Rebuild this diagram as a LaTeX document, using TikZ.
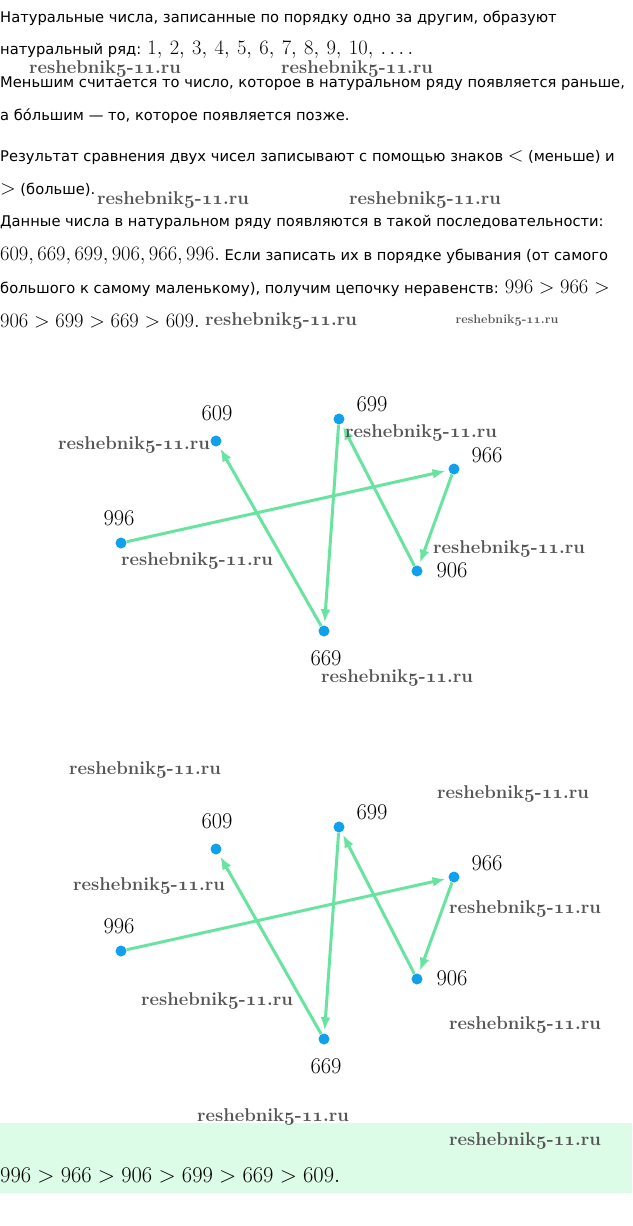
\documentclass[tikz,border=0pt]{standalone}
\usepackage{fix-cm}
\usepackage{fontspec}
\usetikzlibrary{arrows.meta}
\newfontfamily\bodyfont{DejaVu Sans}
\definecolor{linegreen}{RGB}{104,228,160}
\definecolor{dotblue}{RGB}{16,160,236}
\definecolor{boxgreen}{RGB}{220,252,232}
\definecolor{wmgray}{RGB}{85,85,85}
\newcommand\mth[1]{{\fontsize{20.5}{24}\selectfont$#1$}}
\newcommand\osf[1]{{\usefont{OML}{cmm}{b}{it}#1}}
\newcommand\wmtext{reshebnik\osf{5}-\osf{11}.ru}
\newcommand\gap{\hspace{4pt}}
\tikzset{
  body/.style={anchor=base west, inner sep=0pt, font=\bodyfont\fontsize{14.7}{18}\selectfont},
  wm/.style={inner sep=0pt, text=wmgray, font=\fontsize{18.5}{21}\selectfont\bfseries},
  wmsmall/.style={inner sep=0pt, text=wmgray, font=\fontsize{12.5}{14}\selectfont\bfseries},
  dot/.style={circle, fill=dotblue, minimum size=11pt, inner sep=0pt},
  lab/.style={inner sep=0pt, font=\fontsize{22.5}{26}\selectfont},
  arr/.style={draw=linegreen, line width=3pt, -{Latex[length=13pt,width=10pt]}, shorten >=3pt},
}
\begin{document}
\begin{tikzpicture}[x=1pt,y=-1pt]
\useasboundingbox (0,0) rectangle (632,1226);
\fill[white] (0,0) rectangle (632,1226);
% body text
\node[body] (t1) at (0,22.3) {Натуральные числа, записанные по порядку одно за другим, образуют};
\node[body] (t2) at (0,54.9) {натуральный ряд: \mth{1,\gap2,\gap3,\gap4,\gap5,\gap6,\gap7,\gap8,\gap9,\gap10,\gap\ldots.}};
\node[body] (t3) at (0,87.5) {Меньшим считается то число, которое в натуральном ряду появляется раньше,};
\node[body] (t4) at (0,120.1) {а бо́льшим — то, которое появляется позже.};
\node[body] (t5) at (0,161.7) {Результат сравнения двух чисел записывают с помощью знаков \mth{<} (меньше) и};
\node[body] (t6) at (0,194.3) {\mth{>} (больше).};
\node[body] (t7) at (0,226.9) {Данные числа в натуральном ряду появляются в такой последовательности:};
\node[body] (t8) at (0,260) {\mth{609, 669, 699, 906, 966, 996.} Если записать их в порядке убывания (от самого};
\node[body] (t9) at (0,293) {большого к самому маленькому), получим цепочку неравенств: \mth{996>966>}};
\node[body] (t10) at (0,327) {\mth{906>699>669>609.}};
% watermarks (text part)
\node[wm] (w1) at (105,69) {\wmtext};
\node[wm] (w2) at (357,69) {\wmtext};
\node[wm] (w3) at (173,200) {\wmtext};
\node[wm] (w4) at (425,200) {\wmtext};
\node[wm] (w5) at (281,321) {\wmtext};
\node[wmsmall] (w6) at (507,320) {\wmtext};
% diagram 1
\node[dot] (a609) at (216,441) {};
\node[dot] (a699) at (339,419) {};
\node[dot] (a966) at (454,469) {};
\node[dot] (a996) at (121,543) {};
\node[dot] (a906) at (417,571) {};
\node[dot] (a669) at (324,631) {};
\node[lab] (la609) at (217,413) {609};
\node[lab] (la699) at (372,404) {699};
\node[lab] (la966) at (487,455) {966};
\node[lab] (la996) at (119,518) {996};
\node[lab] (la906) at (452,570) {906};
\node[lab] (la669) at (326,658) {669};
\draw[arr] (a996) -- (a966);
\draw[arr] (a966) -- (a906);
\draw[arr] (a906) -- (a699);
\draw[arr] (a699) -- (a669);
\draw[arr] (a669) -- (a609);
\node[wm] (w7) at (134,445) {\wmtext};
\node[wm] (w8) at (421,433) {\wmtext};
\node[wm] (w9) at (197,561) {\wmtext};
\node[wm] (w10) at (509,549) {\wmtext};
\node[wm] (w11) at (397,678) {\wmtext};
% diagram 2
\node[dot] (b609) at (216,849) {};
\node[dot] (b699) at (339,827) {};
\node[dot] (b966) at (454,877) {};
\node[dot] (b996) at (121,951) {};
\node[dot] (b906) at (417,979) {};
\node[dot] (b669) at (324,1039) {};
\node[lab] (lb609) at (217,821) {609};
\node[lab] (lb699) at (372,812) {699};
\node[lab] (lb966) at (487,863) {966};
\node[lab] (lb996) at (119,926) {996};
\node[lab] (lb906) at (452,978) {906};
\node[lab] (lb669) at (326,1066) {669};
\draw[arr] (b996) -- (b966);
\draw[arr] (b966) -- (b906);
\draw[arr] (b906) -- (b699);
\draw[arr] (b699) -- (b669);
\draw[arr] (b669) -- (b609);
\node[wm] (w12) at (145,770) {\wmtext};
\node[wm] (w13) at (513,794) {\wmtext};
\node[wm] (w14) at (149,886) {\wmtext};
\node[wm] (w15) at (525,909) {\wmtext};
\node[wm] (w16) at (217,1001) {\wmtext};
\node[wm] (w17) at (525,1025) {\wmtext};
% answer box
\fill[boxgreen] (0,1123) rectangle (632,1193);
\node[anchor=base west, inner sep=0pt, font=\fontsize{22.5}{26}\selectfont] (ans) at (0,1182) {$996>966>906>699>669>609.$};
\node[wm] (w18) at (273,1117) {\wmtext};
\node[wm] (w19) at (525,1141) {\wmtext};
\end{tikzpicture}
\end{document}
